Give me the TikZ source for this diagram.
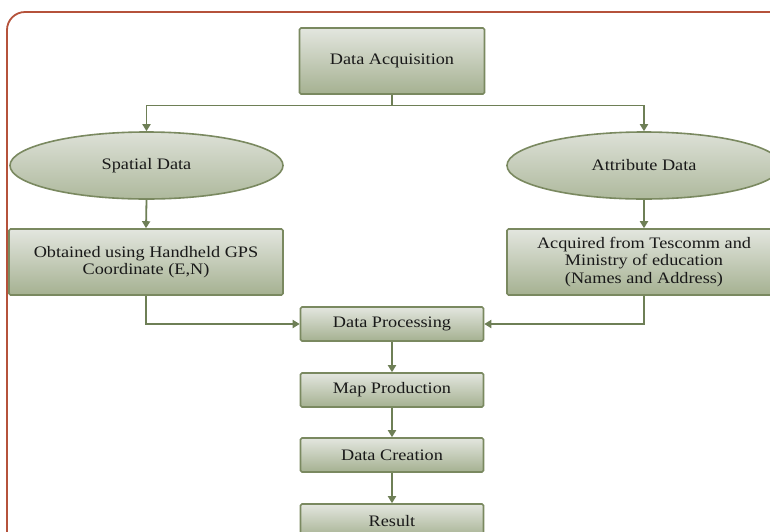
\documentclass[tikz,border=0pt]{standalone}
\usepackage{fontspec}
\setmainfont{Liberation Serif}[FakeStretch=1.14]
\usetikzlibrary{arrows.meta,shapes.geometric}
\definecolor{frameclr}{HTML}{B5523B}
\definecolor{boxline}{HTML}{7A8960}
\definecolor{arrowclr}{HTML}{6E7F56}
\definecolor{filltop}{HTML}{E3E6DF}
\definecolor{fillbot}{HTML}{A5B191}
\tikzset{
  x=1pt, y=-1pt,
  gbox/.style={draw=boxline, line width=1.6pt, rounded corners=1.5pt,
    top color=filltop, bottom color=fillbot, align=center,
    inner sep=0pt, font=\fontsize{16}{17.5}\selectfont, text=black!90},
  gell/.style={ellipse, draw=boxline, line width=1.6pt,
    top color=filltop!90!fillbot, bottom color=fillbot!85!filltop, align=center,
    inner sep=0pt, font=\fontsize{16}{17.5}\selectfont, text=black!90},
  conn/.style={draw=arrowclr, line width=1.8pt},
  arr/.style={conn, -{Triangle[width=8pt,length=7pt]}}
}
\begin{document}
\begin{tikzpicture}
\useasboundingbox (0,0) rectangle (770,531);
\clip (0,0) rectangle (770,531);
\fill[white] (0,0) rectangle (770,531);
\draw[frameclr, line width=1.8pt, rounded corners=18pt] (7,12) rectangle (820,580);

\node[gbox, minimum width=185pt, minimum height=66pt] (acq) at (392,61) {Data Acquisition};
\node[gell, minimum width=273pt, minimum height=67pt] (spat) at (146.5,165.5) {Spatial Data};
\node[gell, minimum width=274pt, minimum height=67pt] (attr) at (644,165.5) {Attribute Data};
\node[gbox, minimum width=274pt, minimum height=66pt] (gps) at (146,262) {Obtained using Handheld GPS\\Coordinate (E,N)};
\node[gbox, minimum width=274pt, minimum height=66pt] (tes) at (644,262) {Acquired from Tescomm and\\Ministry of education\\(Names and Address)};
\node[gbox, minimum width=183pt, minimum height=34pt] (proc) at (392,324) {Data Processing};
\node[gbox, minimum width=183pt, minimum height=34pt] (map) at (392,390) {Map Production};
\node[gbox, minimum width=183pt, minimum height=34pt] (crea) at (392,455) {Data Creation};
\node[gbox, minimum width=183pt, minimum height=34pt] (res) at (392,521) {Result};

\coordinate (bj) at (392,105.5);
\draw[conn] (acq.south) -- (bj);
\draw[arr] (bj) -| (spat.north);
\draw[arr] (bj) -| (attr.north);
\draw[arr] (spat.south) -- (gps.north);
\draw[arr] (attr.south) -- (tes.north);
\draw[arr] (gps.south) |- (proc.west);
\draw[arr] (tes.south) |- (proc.east);
\draw[arr] (proc.south) -- (map.north);
\draw[arr] (map.south) -- (crea.north);
\draw[arr] (crea.south) -- (res.north);
\end{tikzpicture}
\end{document}
